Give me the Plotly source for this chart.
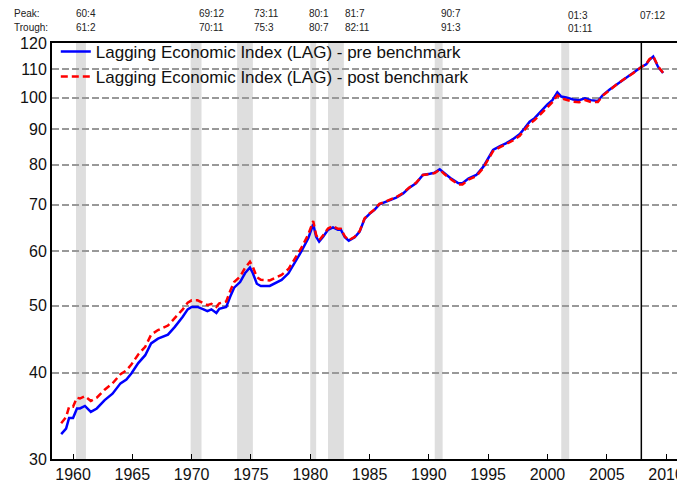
import plotly.graph_objects as go

dates = ["1959-01","1959-06","1959-09","1960-01","1960-05","1960-08","1961-01","1961-07","1962-01","1962-09",
         "1963-05","1964-01","1964-07","1964-12","1965-07","1966-02","1966-08","1967-03","1968-01","1968-08",
         "1969-04","1969-09","1970-01","1970-07","1971-01","1971-05","1971-09","1972-02","1972-05","1972-12",
         "1973-04","1973-08","1974-02","1974-07","1974-12","1975-03","1975-07","1975-11","1976-08","1977-01",
         "1977-08","1978-03","1978-09","1979-04","1979-11","1980-04","1980-07","1980-10","1981-02","1981-07",
         "1981-12","1982-05","1982-08","1982-12","1983-04","1983-10","1984-03","1984-08","1985-01","1985-06",
         "1985-11","1986-06","1986-11","1987-04","1987-11","1988-05","1988-12","1989-07","1990-02","1990-07",
         "1990-12","1991-05","1991-12","1992-07","1992-11","1993-05","1994-01","1994-08","1995-01","1995-06",
         "1996-01","1996-07","1997-02","1997-09","1998-02","1998-07","1998-12","1999-05","2000-01","2000-06",
         "2000-11","2001-03","2001-08","2002-03","2002-09","2003-03","2003-09","2004-04","2004-09","2005-04",
         "2005-12","2006-07","2007-03","2007-12","2008-05","2008-08","2008-12","2009-05","2009-10"]

lag_pre = [32.6,33.2,34.4,34.4,35.5,35.5,35.8,35.1,35.5,36.5,
           37.3,38.6,39.1,39.9,41.3,42.4,44.1,44.8,45.4,46.6,
           48.2,49.4,49.8,49.8,49.4,49.1,49.4,48.8,49.5,49.8,
           51.5,53.1,54.1,55.7,56.8,55.7,53.8,53.4,53.4,53.8,
           54.5,55.7,57.6,59.9,62.6,65.6,62.9,61.9,62.9,64.4,
           64.9,64.4,64.4,62.8,62.1,62.8,64.0,66.8,67.9,68.8,
           70.1,70.7,71.1,71.7,72.7,74.0,75.2,77.3,77.6,77.9,
           78.8,77.7,76.3,75.2,75.2,76.4,77.3,79.4,81.7,84.0,
           85.1,85.9,87.1,88.6,90.4,92.3,93.4,95.1,97.8,99.2,
           101.8,100.4,100.1,99.4,99.2,99.8,99.2,98.9,100.9,102.8,
           104.8,106.5,108.3,110.8,111.8,113.4,114.7,110.8,108.6]

lag_post = [33.8,34.5,35.7,35.7,36.8,36.7,37.0,36.4,36.8,37.8,
            38.6,39.8,40.3,41.1,42.5,43.6,45.4,46.1,46.8,48.0,
            49.4,50.5,50.9,50.9,50.4,50.1,50.3,49.8,50.4,50.7,
            52.5,54.1,55.1,56.7,57.9,56.9,55.0,54.5,54.4,54.8,
            55.4,56.5,58.3,60.6,63.4,66.3,63.3,62.2,63.2,64.7,
            65.2,64.6,64.6,63.0,62.2,62.9,64.1,66.9,68.0,68.9,
            70.2,70.8,71.2,71.8,72.8,74.1,75.3,77.3,77.5,77.8,
            78.7,77.5,76.1,74.9,74.9,76.1,77.0,79.1,81.4,83.7,
            84.8,85.6,86.7,88.1,89.8,91.7,92.8,94.4,97.1,98.5,
            100.8,99.8,99.3,98.7,98.5,99.2,98.6,98.6,100.7,102.7,
            104.8,106.5,108.3,110.8,111.9,113.6,114.9,111.0,108.6]

rec_start = ["1960-04-01","1969-12-01","1973-11-01","1980-01-01","1981-07-01","1990-07-01","2001-03-01"]
rec_end   = ["1961-02-01","1970-11-01","1975-03-01","1980-07-01","1982-11-01","1991-03-01","2001-11-01"]

peak_labels   = ["60:4","69:12","73:11","80:1","81:7","90:7","01:3","07:12"]
trough_labels = ["61:2","70:11","75:3","80:7","82:11","91:3","01:11",""]
label_x = ["1960-02-01","1970-06-15","1975-02-01","1979-09-25","1982-10-10","1990-11-10","2001-07-25","2007-08-20"]
peak_y   = [1.072,1.072,1.072,1.072,1.072,1.072,1.065,1.067]
trough_y = [1.038,1.038,1.038,1.038,1.038,1.038,1.034,1.034]

yticks = [30,40,50,60,70,80,90,100,110,120]
vline_date = "2007-12-01"

fig = go.Figure()
fig.add_trace(go.Scatter(x=dates, y=lag_pre, mode="lines",
                         name="Lagging Economic Index (LAG) - pre benchmark",
                         line=dict(color="#0000ff", width=2.5)))
fig.add_trace(go.Scatter(x=dates, y=lag_post, mode="lines",
                         name="Lagging Economic Index (LAG) - post benchmark",
                         line=dict(color="#ff0000", width=2.5, dash="7px,4px")))

for s, e in zip(rec_start, rec_end):
    fig.add_shape(type="rect", xref="x", yref="paper", x0=s, x1=e, y0=0, y1=1,
                  fillcolor="#dedede", line=dict(width=0), layer="below")

fig.add_shape(type="line", xref="x", yref="paper", x0=vline_date, x1=vline_date, y0=0, y1=1,
              line=dict(color="black", width=1.5))

ann_font = dict(family="Liberation Sans, Arial", size=10, color="#222")
fig.add_annotation(text="Peak:", xref="paper", yref="paper", x=-0.063, y=1.072,
                   xanchor="left", yanchor="middle", showarrow=False, font=ann_font)
fig.add_annotation(text="Trough:", xref="paper", yref="paper", x=-0.063, y=1.038,
                   xanchor="left", yanchor="middle", showarrow=False, font=ann_font)
for lx, p, t, py, ty in zip(label_x, peak_labels, trough_labels, peak_y, trough_y):
    fig.add_annotation(text=p, xref="x", yref="paper", x=lx, y=py,
                       xanchor="left", yanchor="middle", showarrow=False, font=ann_font)
    if t:
        fig.add_annotation(text=t, xref="x", yref="paper", x=lx, y=ty,
                           xanchor="left", yanchor="middle", showarrow=False, font=ann_font)

fig.update_layout(
    width=677, height=475,
    margin=dict(l=44, r=0, t=35, b=24, autoexpand=False),
    paper_bgcolor="white", plot_bgcolor="white",
    font=dict(family="Liberation Sans, Arial", size=16, color="#111"),
    showlegend=True,
    legend=dict(x=0.006, y=1.022, xanchor="left", yanchor="top",
                bgcolor="rgba(0,0,0,0)", borderwidth=0,
                font=dict(size=17, color="#111"), tracegroupgap=0),
)
fig.update_xaxes(type="date", range=["1958-03-24", "2011-08-07"],
                 tick0="1960-01-01", dtick="M60", tickformat="%Y",
                 showgrid=False, showline=True, linecolor="black", linewidth=2,
                 mirror=True, ticks="inside", ticklen=5, tickcolor="black",
                 zeroline=False, tickfont=dict(size=16))
fig.update_yaxes(type="log", range=[1.47712, 2.07918],
                 tickvals=yticks, ticktext=[str(v) for v in yticks],
                 showgrid=True, gridcolor="#999999", gridwidth=1.5, griddash="7px,3px",
                 showline=True, linecolor="black", linewidth=2,
                 ticks="", zeroline=False, tickfont=dict(size=16))

fig.write_html("out.html")
